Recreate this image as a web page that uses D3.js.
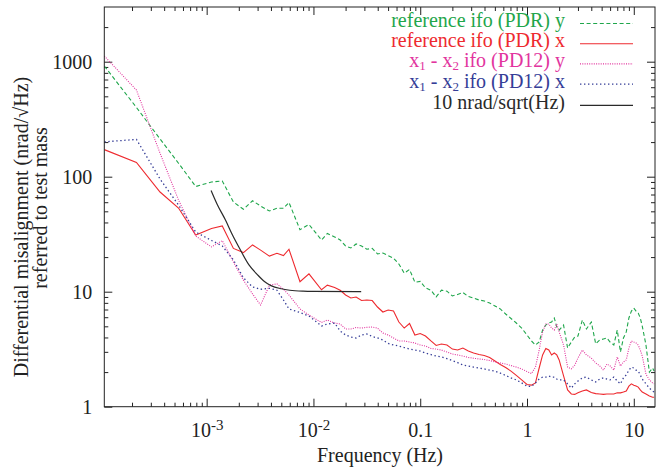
<!DOCTYPE html>
<html>
<head>
<meta charset="utf-8">
<script src="https://cdn.jsdelivr.net/npm/d3@7"></script>
<style>
  body { margin: 0; background: #fff; }
  svg text { font-family: "Liberation Serif", "DejaVu Serif", serif; }
</style>
</head>
<body>
<div id="chart"></div>
<script>
// frequency bins (Hz), shared by the four measured curves
const freq = [
  1.1e-4, 2.2e-4, 3.66e-4, 5.45e-4, 7.9e-4, 1.11e-3, 1.4e-3, 1.78e-3, 2.21e-3, 2.69e-3,
  3.2e-3, 3.87e-3, 4.55e-3, 5.24e-3, 5.9e-3, 7.48e-3, 9.08e-3, 0.0119, 0.0135,
  0.0158, 0.0178, 0.02, 0.0224, 0.0251, 0.0282, 0.0316, 0.0355, 0.0398, 0.0447,
  0.0501, 0.0562, 0.0631, 0.0708, 0.0794, 0.0891, 0.1, 0.112, 0.126, 0.141,
  0.158, 0.178, 0.2, 0.224, 0.251, 0.282, 0.316, 0.355, 0.398, 0.447,
  0.501, 0.562, 0.631, 0.708, 0.794, 0.891, 1.0,
  1.1, 1.2, 1.3, 1.4, 1.5, 1.6, 1.7, 1.8, 1.9, 2.0,
  2.2, 2.4, 2.6, 2.8, 3.0, 3.3, 3.6, 4.0, 4.4, 4.8,
  5.2, 5.6, 6.0, 6.5, 7.0, 7.5, 8.0, 8.5, 9.0, 9.5,
  10, 10.5, 11, 11.5, 12, 13, 14, 15, 15.5
]

// reference ifo (PDR) y
const refY = [
  918, 400, 213, 131, 82.2, 90.0, 91.8, 60.3, 52.1, 61.8,
  55.6, 50.3, 53.1, 53.1, 59.7, 34.6, 38.4, 28.2, 32.1,
  29.9, 28.2, 25.0, 24.0, 26.0, 25.0, 23.4, 23.8, 21.3, 21.7,
  20.6, 19.6, 17.4, 14.5, 15.6, 12.1, 12.3, 10.8, 10.3, 9.0,
  10.3, 10.1, 9.18, 9.46, 9.84, 9.08, 8.81, 8.47, 8.30, 7.97,
  7.51, 7.08, 6.40, 5.85, 5.34, 4.83, 4.20,
  3.73, 3.44, 3.65, 4.64, 5.13, 5.34, 5.45, 5.91, 4.93, 4.64,
  5.13, 3.24, 3.65, 4.04, 4.12, 5.67, 4.74, 5.45, 3.52, 3.80,
  3.88, 3.96, 3.65, 3.44, 4.64, 2.99, 3.96, 4.47, 5.91, 6.79,
  7.21, 6.79, 6.53, 5.91, 5.03, 3.44, 2.00, 2.17, 2.04
]

// reference ifo (PDR) x
const refX = [
  172, 133, 73.6, 53.4, 31.1, 35.5, 37.3, 23.8, 21.9, 25.5,
  23.0, 20.4, 21.6, 20.6, 23.4, 12.2, 14.3, 10.4, 11.4,
  10.9, 10.3, 9.36, 8.81, 9.0, 8.38, 8.47, 8.38, 7.36, 6.66,
  6.93, 6.79, 5.45, 4.83, 5.29, 4.20, 4.33, 4.12, 3.73, 3.41,
  3.51, 3.44, 3.17, 3.11, 3.24, 3.05, 2.93, 2.84, 2.79, 2.68,
  2.50, 2.33, 2.19, 2.04, 1.87, 1.71, 1.56,
  1.54, 1.61, 2.17, 2.82, 3.21, 3.11, 2.82, 2.93, 2.82, 2.55,
  1.85, 1.40, 1.29, 1.28, 1.32, 1.37, 1.40, 1.33, 1.30, 1.29,
  1.28, 1.29, 1.29, 1.29, 1.32, 1.32, 1.34, 1.37, 1.51, 1.58,
  1.54, 1.51, 1.48, 1.40, 1.34, 1.29, 1.24, 1.21, 1.21
]

// x1 - x2 ifo (PD12) y
const pd12Y = [
  1120, 567, 160, 62.7, 30.5, 24.5, 27.8, 18.1, 12.6, 9.55,
  7.66, 11.4, 11.7, 10.5, 9.36, 7.08, 6.27, 5.40, 5.67,
  5.34, 5.24, 4.74, 4.74, 4.88, 4.83, 4.90, 4.93, 4.83, 4.37,
  4.20, 3.96, 3.73, 3.73, 3.65, 3.58, 3.44, 3.37, 3.21, 3.17,
  3.11, 2.99, 2.87, 2.82, 2.76, 2.68, 2.64, 2.60, 2.57, 2.52,
  2.45, 2.40, 2.35, 2.28, 2.21, 2.13, 2.02,
  1.94, 2.21, 3.11, 4.47, 5.24, 5.24, 4.83, 4.64, 5.24, 4.47,
  3.44, 2.21, 2.13, 2.30, 2.65, 3.11, 2.82, 2.65, 2.40, 2.26,
  2.08, 2.35, 2.26, 2.08, 2.71, 2.26, 2.45, 2.55, 3.24, 3.73,
  3.65, 3.58, 3.44, 3.11, 2.76, 1.92, 1.71, 1.61, 1.58
]

// x1 - x2 ifo (PD12) x
const pd12X = [
  201, 211, 95.5, 56.7, 33.0, 27.9, 25.0, 18.9, 13.2, 11.0,
  10.5, 10.7, 10.3, 8.47, 7.08, 6.59, 6.15, 5.03, 5.24,
  5.34, 4.55, 4.20, 4.04, 3.96, 4.20, 4.29, 4.08, 3.96, 3.80,
  3.55, 3.44, 3.37, 3.27, 3.17, 3.11, 3.05, 2.93, 2.84, 2.76,
  2.71, 2.62, 2.52, 2.42, 2.30, 2.26, 2.21, 2.17, 2.13, 2.08,
  2.04, 1.96, 1.87, 1.78, 1.71, 1.61, 1.51,
  1.50, 1.61, 1.74, 1.81, 1.81, 1.85, 1.81, 1.81, 1.74, 1.71,
  1.71, 1.58, 1.45, 1.58, 1.67, 1.78, 1.81, 1.71, 1.64, 1.74,
  1.78, 1.74, 1.71, 1.81, 1.67, 1.58, 1.78, 1.89, 2.08, 2.21,
  2.17, 2.08, 2.04, 1.89, 1.74, 1.58, 1.45, 1.37, 1.34
]

// 10 nrad/sqrt(Hz) requirement curve
const reqFreq = [1.1e-3, 1.25e-3, 1.5e-3, 1.75e-3, 2.0e-3, 2.5e-3, 3.0e-3, 3.5e-3, 4.0e-3, 5.0e-3, 6.0e-3, 8.0e-3, 0.01, 0.028]
const reqVal = [76, 58, 42, 31, 24.5, 17, 14, 12.2, 11.3, 10.6, 10.3, 10.1, 10.05, 10]

const xMajor = [1e-3, 1e-2, 0.1, 1, 10]
const yMajor = [1, 10, 100, 1000]

const serif = '"Liberation Serif", "DejaVu Serif", serif'

const series = [
  { name: 'reference ifo (PDR) y', values: refY, color: '#1fa64b', dash: '4,2.6', width: 1.1 },
  { name: 'reference ifo (PDR) x', values: refX, color: '#ee2a2f', dash: null, width: 1.1 },
  { name: 'PD12 y', values: pd12Y, color: '#e2349e', dash: '1,1.3', width: 1.1 },
  { name: 'PD12 x', values: pd12X, color: '#353d97', dash: '1.4,2.6', width: 1.3 }
]

// canvas
const width = 658, height = 472
const padL = 104.3, padR = 655, padT = 7, padB = 406.7

const svg = d3.select('#chart')
  .append('svg')
  .attr('width', width)
  .attr('height', height)
  .style('background', '#fff')

const x = d3.scaleLog().domain([1.1e-4, 15.8]).range([padL, padR])
const y = d3.scaleLog().domain([1, 2990]).range([padB, padT])

// minor ticks 2..9 of each decade
let minors = (lo, hi, scale) => {
  let out = []
  for (let e = lo; e <= hi; e++) {
    for (let m = 2; m <= 9; m++) {
      let v = m * Math.pow(10, e)
      let [a, b] = scale.domain()
      if (v > a && v < b) out.push(v)
    }
  }
  return out
}
const xMinor = minors(-4, 1, x)
const yMinor = minors(0, 3, y)

svg.append('defs').append('clipPath').attr('id', 'plot')
  .append('rect')
  .attr('x', padL).attr('y', padT)
  .attr('width', padR - padL).attr('height', padB - padT)

// axes, ticks pointing in on all four sides
let styleAxis = g => {
  g.attr('font-family', serif)
  g.select('.domain').remove()
  g.selectAll('line').attr('stroke', '#222').attr('stroke-width', 1)
  g.selectAll('text').attr('fill', '#222').style('font-size', '20px')
}

svg.append('g').attr('transform', `translate(0,${padB})`)
  .call(d3.axisBottom(x).tickValues(xMajor).tickSize(-8).tickPadding(16).tickFormat(''))
  .call(styleAxis)
  .selectAll('.tick text')
  .each(function (d) {
    let t = d3.select(this)
    let e = Math.round(Math.log10(d))
    if (e < -1) {
      t.text('10')
      t.append('tspan').attr('dy', '-0.45em').style('font-size', '15px').text(e)
    } else {
      t.text(d3.format('~g')(d))
    }
  })
svg.append('g').attr('transform', `translate(0,${padB})`)
  .call(d3.axisBottom(x).tickValues(xMinor).tickSize(-4).tickFormat(''))
  .call(styleAxis)
svg.append('g').attr('transform', `translate(0,${padT})`)
  .call(d3.axisTop(x).tickValues(xMajor).tickSize(-8).tickFormat(''))
  .call(styleAxis)
svg.append('g').attr('transform', `translate(0,${padT})`)
  .call(d3.axisTop(x).tickValues(xMinor).tickSize(-4).tickFormat(''))
  .call(styleAxis)

svg.append('g').attr('transform', `translate(${padL},0)`)
  .call(d3.axisLeft(y).tickValues(yMajor).tickSize(-8).tickPadding(12).tickFormat(d3.format('d')))
  .call(styleAxis)
svg.append('g').attr('transform', `translate(${padL},0)`)
  .call(d3.axisLeft(y).tickValues(yMinor).tickSize(-4).tickFormat(''))
  .call(styleAxis)
svg.append('g').attr('transform', `translate(${padR},0)`)
  .call(d3.axisRight(y).tickValues(yMajor).tickSize(-8).tickFormat(''))
  .call(styleAxis)
svg.append('g').attr('transform', `translate(${padR},0)`)
  .call(d3.axisRight(y).tickValues(yMinor).tickSize(-4).tickFormat(''))
  .call(styleAxis)

// curves
const line = d3.line().x(d => x(d[0])).y(d => y(d[1]))
const plot = svg.append('g').attr('clip-path', 'url(#plot)')

series.forEach(s => {
  plot.append('path')
    .datum(freq.map((f, i) => [f, s.values[i]]))
    .attr('d', line)
    .attr('fill', 'none')
    .attr('stroke', s.color)
    .attr('stroke-width', s.width)
    .attr('stroke-dasharray', s.dash)
})

plot.append('path')
  .datum(reqFreq.map((f, i) => [f, reqVal[i]]))
  .attr('d', line.curve(d3.curveMonotoneX))
  .attr('fill', 'none')
  .attr('stroke', '#2a2a2a')
  .attr('stroke-width', 1.2)

// frame
svg.append('rect')
  .attr('x', padL).attr('y', padT)
  .attr('width', padR - padL).attr('height', padB - padT)
  .attr('fill', 'none').attr('stroke', '#222').attr('stroke-width', 1)

// legend
const legend = [
  { parts: [['reference ifo (PDR) y']], color: series[0].color, dash: series[0].dash, width: 1.1 },
  { parts: [['reference ifo (PDR) x']], color: series[1].color, dash: null, width: 1.1 },
  { parts: [['x'], ['1', 'sub'], [' - x'], ['2', 'sub'], [' ifo (PD12) y']], color: series[2].color, dash: series[2].dash, width: 1.1 },
  { parts: [['x'], ['1', 'sub'], [' - x'], ['2', 'sub'], [' ifo (PD12) x']], color: series[3].color, dash: series[3].dash, width: 1.3 },
  { parts: [['10 nrad/sqrt(Hz)']], color: '#2a2a2a', dash: null, width: 1.2 }
]

legend.forEach((l, i) => {
  let ly = 23.5 + i * 20.2 + (i === 4 ? 1 : 0)
  let t = svg.append('text')
    .attr('x', 565).attr('y', ly + 6.5)
    .attr('text-anchor', 'end')
    .attr('font-family', serif)
    .attr('fill', l.color)
    .style('font-size', '20px')
  l.parts.forEach(p => {
    if (p[1] === 'sub') {
      t.append('tspan').attr('dy', 3).style('font-size', '13px').text(p[0])
    } else {
      t.append('tspan').attr('dy', t.selectAll('tspan').size() ? -3 : 0).text(p[0])
    }
  })
  svg.append('line')
    .attr('x1', 580).attr('x2', 633)
    .attr('y1', ly).attr('y2', ly)
    .attr('stroke', l.color)
    .attr('stroke-width', l.width)
    .attr('stroke-dasharray', l.dash)
})

// axis titles
svg.append('text')
  .attr('x', 380).attr('y', 462)
  .attr('text-anchor', 'middle')
  .attr('font-family', serif)
  .attr('fill', '#222')
  .style('font-size', '20px')
  .text('Frequency (Hz)')

svg.append('text')
  .attr('transform', 'translate(28,227) rotate(-90)')
  .attr('text-anchor', 'middle')
  .attr('font-family', serif)
  .attr('fill', '#222')
  .style('font-size', '20px')
  .text('Differential misalignment (nrad/\u221AHz)')

svg.append('text')
  .attr('transform', 'translate(47,208) rotate(-90)')
  .attr('text-anchor', 'middle')
  .attr('font-family', serif)
  .attr('fill', '#222')
  .style('font-size', '20px')
  .text('referred to test mass')
</script>
</body>
</html>
